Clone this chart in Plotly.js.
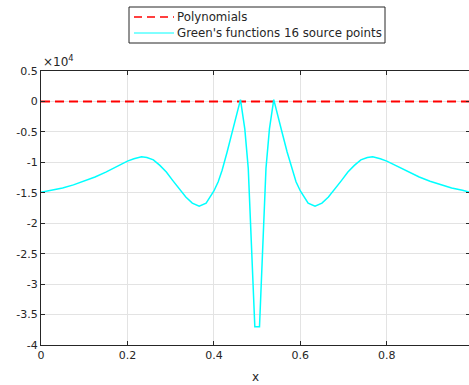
<!DOCTYPE html>
<html>
<head>
<meta charset="utf-8">
<script src="https://cdn.plot.ly/plotly-3.0.1.min.js"></script>
<style>html,body{margin:0;padding:0;overflow:hidden;background:#fff;}#chart{width:470px;height:385px;}</style>
</head>
<body>
<div id="chart"></div>
<script>
// Polynomials series (flat at zero)
const polyX = [0, 0.9925];
const polyY = [0, 0];

// Green's functions 16 source points series
const greenX = [0, 0.025, 0.05, 0.075, 0.1, 0.125, 0.15, 0.175, 0.2, 0.215, 0.2326, 0.245, 0.26, 0.275, 0.29, 0.305, 0.32, 0.335, 0.35, 0.366, 0.382, 0.40, 0.41, 0.419, 0.4306, 0.4422, 0.4538, 0.4615, 0.4715, 0.4795, 0.4947, 0.5055, 0.5205, 0.5285, 0.5385, 0.5462, 0.5578, 0.5694, 0.581, 0.59, 0.60, 0.618, 0.634, 0.65, 0.665, 0.68, 0.695, 0.71, 0.725, 0.74, 0.755, 0.7674, 0.785, 0.80, 0.825, 0.85, 0.875, 0.90, 0.925, 0.95, 0.975, 0.9925];
const greenY = [-14900, -14600, -14200, -13700, -13100, -12400, -11600, -10700, -9800, -9400, -9100, -9200, -9600, -10500, -11600, -13000, -14400, -15700, -16700, -17200, -16700, -14700, -13200, -11300, -8300, -5100, -1700, 300, -4500, -11000, -37000, -37000, -11000, -4500, 300, -1700, -5100, -8300, -11300, -13200, -14700, -16700, -17200, -16700, -15700, -14400, -13000, -11600, -10500, -9600, -9200, -9100, -9400, -9800, -10700, -11600, -12400, -13100, -13700, -14200, -14600, -14900];

const seriesNames = ['Polynomials', "Green's functions 16 source points"];
const seriesColors = ['#ff0000', '#00ffff'];

// Axis ticks
const xTickVals = [0, 0.2, 0.4, 0.6, 0.8];
const xTickText = ['0', '0.2', '0.4', '0.6', '0.8'];
const yTickVals = [-40000, -35000, -30000, -25000, -20000, -15000, -10000, -5000, 0, 5000];
const yTickText = ['-4', '-3.5', '-3', '-2.5', '-2', '-1.5', '-1', '-0.5', '0', '0.5'];

const axisColor = '#262626';
const fam = 'DejaVu Sans, sans-serif';
const font = {family: fam, size: 11, color: axisColor};

const traces = [
  {x: polyX, y: polyY, mode: 'lines', name: seriesNames[0],
   line: {color: seriesColors[0], width: 2, dash: '9px,5px'}},
  {x: greenX, y: greenY, mode: 'lines', name: seriesNames[1],
   line: {color: seriesColors[1], width: 1.5}}
];

const axisCommon = {
  showline: true, linecolor: axisColor, linewidth: 1, mirror: 'ticks',
  ticks: 'inside', ticklen: 4, tickcolor: axisColor, tickwidth: 1,
  showgrid: true, gridcolor: '#e3e3e3', gridwidth: 1, zeroline: false,
  tickfont: font
};

// Legend geometry (MATLAB-style box above the axes), in paper units
const mL = 41, mT = 71, plotW = 429, plotH = 274;
const px2x = p => (p - mL) / plotW;
const py2y = p => (mT + plotH - p) / plotH;
const legendRows = [17, 33];

const shapes = [{
  type: 'rect', xref: 'paper', yref: 'paper',
  x0: px2x(129), x1: px2x(385), y0: py2y(43), y1: py2y(7),
  line: {color: axisColor, width: 1}, fillcolor: '#ffffff', layer: 'above'
}];
const annotations = [{
  text: '×10<sup>4</sup>', xref: 'paper', yref: 'paper', x: 0, y: 1,
  xanchor: 'left', yanchor: 'bottom', showarrow: false,
  font: {family: fam, size: 12, color: axisColor}
}];
seriesNames.forEach((name, i) => {
  shapes.push({
    type: 'line', xref: 'paper', yref: 'paper',
    x0: px2x(134), x1: px2x(174), y0: py2y(legendRows[i]), y1: py2y(legendRows[i]),
    line: {color: seriesColors[i], width: i === 0 ? 1.5 : 1, dash: i === 0 ? '8px,5px' : 'solid'},
    layer: 'above'
  });
  annotations.push({
    text: name, xref: 'paper', yref: 'paper', x: px2x(175), y: py2y(legendRows[i]),
    xanchor: 'left', yanchor: 'middle', showarrow: false,
    font: {family: fam, size: 11.8, color: axisColor}
  });
});

const layout = {
  width: 470, height: 385,
  margin: {l: mL, r: 0, t: mT, b: 40, pad: 0},
  paper_bgcolor: '#ffffff', plot_bgcolor: '#ffffff',
  font: font,
  showlegend: false,
  xaxis: Object.assign({}, axisCommon, {
    range: [0, 0.9925], tickvals: xTickVals, ticktext: xTickText,
    title: {text: 'x', font: {family: fam, size: 12, color: axisColor}, standoff: 11}
  }),
  yaxis: Object.assign({}, axisCommon, {
    range: [-40000, 5000], tickvals: yTickVals, ticktext: yTickText
  }),
  shapes: shapes,
  annotations: annotations
};

Plotly.newPlot('chart', traces, layout, {displayModeBar: false, staticPlot: true});
</script>
</body>
</html>
